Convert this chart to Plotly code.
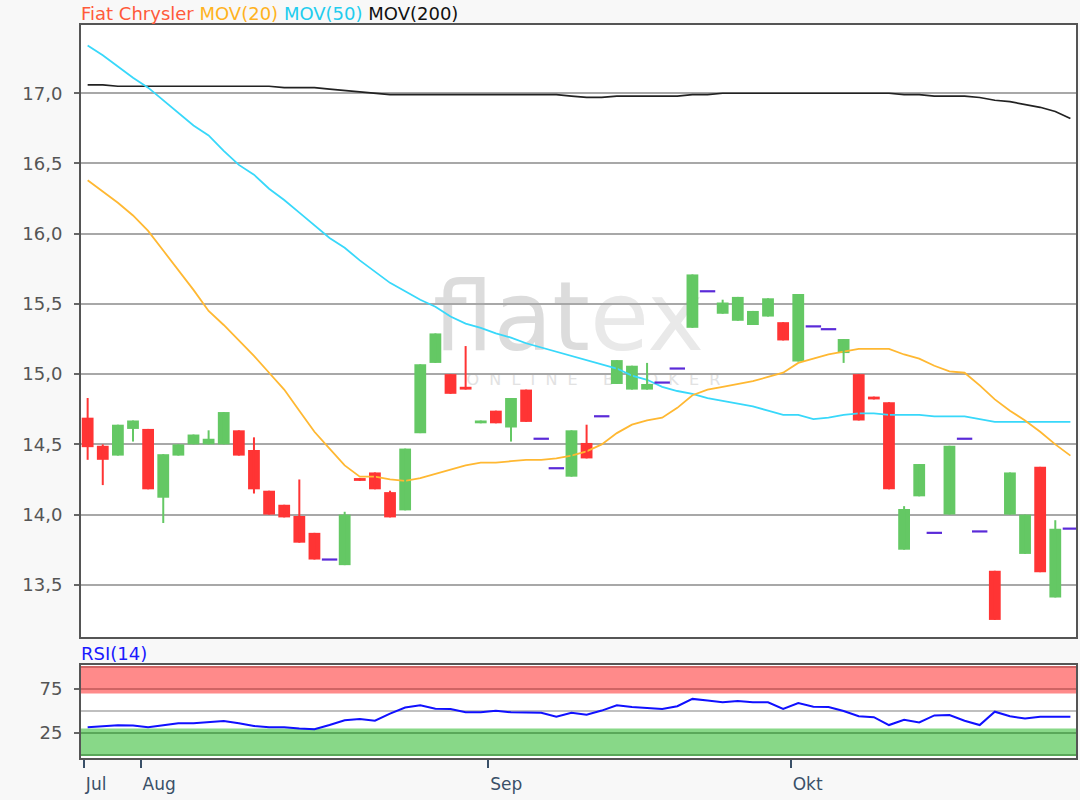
import plotly.graph_objects as go
import pandas as pd

# ---------------- data ----------------
dates = pd.bdate_range("2018-07-26", "2018-10-25")
month_names = {7: "Jul", 8: "Aug", 9: "Sep", 10: "Okt"}

open_ = [14.69, 14.49, 14.42, 14.61, 14.61, 14.12, 14.42, 14.50, 14.50, 14.50,
         14.60, 14.46, 14.17, 14.07, 13.99, 13.87, 13.68, 13.64, 14.26, 14.30,
         14.16, 14.03, 14.58, 15.08, 15.00, 14.91, 14.65, 14.74, 14.62, 14.89,
         14.54, 14.33, 14.27, 14.51, 14.70, 14.93, 14.89, 14.89, 14.94, 15.04,
         15.33, 15.59, 15.43, 15.38, 15.35, 15.41, 15.37, 15.09, 15.34, 15.32,
         15.15, 15.00, 14.84, 14.80, 13.75, 14.13, 13.87, 14.00, 14.54, 13.88,
         13.60, 14.00, 13.72, 14.34, 13.41, 13.90]
high = [14.83, 14.50, 14.64, 14.67, 14.61, 14.43, 14.50, 14.57, 14.60, 14.73,
        14.60, 14.55, 14.17, 14.07, 14.25, 13.87, 13.68, 14.02, 14.26, 14.30,
        14.17, 14.47, 15.07, 15.29, 15.00, 15.20, 14.67, 14.74, 14.83, 14.89,
        14.54, 14.33, 14.60, 14.64, 14.70, 15.10, 15.06, 15.08, 14.94, 15.04,
        15.71, 15.59, 15.53, 15.55, 15.45, 15.54, 15.37, 15.57, 15.34, 15.32,
        15.25, 15.00, 14.84, 14.80, 14.06, 14.36, 13.87, 14.49, 14.54, 13.88,
        13.60, 14.30, 14.00, 14.34, 13.96, 13.90]
low = [14.39, 14.21, 14.42, 14.52, 14.18, 13.94, 14.42, 14.50, 14.50, 14.50,
       14.42, 14.15, 14.00, 13.98, 13.80, 13.68, 13.68, 13.64, 14.24, 14.18,
       13.98, 14.03, 14.58, 15.08, 14.86, 14.89, 14.65, 14.65, 14.52, 14.66,
       14.54, 14.33, 14.27, 14.40, 14.70, 14.93, 14.89, 14.89, 14.94, 15.04,
       15.33, 15.59, 15.43, 15.38, 15.35, 15.41, 15.24, 15.09, 15.34, 15.32,
       15.08, 14.67, 14.82, 14.18, 13.75, 14.13, 13.87, 14.00, 14.54, 13.88,
       13.25, 14.00, 13.72, 13.59, 13.41, 13.90]
close = [14.48, 14.39, 14.64, 14.67, 14.18, 14.43, 14.50, 14.57, 14.54, 14.73,
         14.42, 14.18, 14.00, 13.98, 13.80, 13.68, 13.68, 14.00, 14.24, 14.18,
         13.98, 14.47, 15.07, 15.29, 14.86, 14.89, 14.67, 14.65, 14.83, 14.66,
         14.54, 14.33, 14.60, 14.40, 14.70, 15.10, 15.06, 14.93, 14.94, 15.04,
         15.71, 15.59, 15.51, 15.55, 15.45, 15.54, 15.24, 15.57, 15.34, 15.32,
         15.25, 14.67, 14.82, 14.18, 14.04, 14.36, 13.87, 14.49, 14.54, 13.88,
         13.25, 14.30, 14.00, 13.59, 13.90, 13.90]

mov20 = [16.38, 16.30, 16.22, 16.13, 16.02, 15.88, 15.74, 15.60, 15.45, 15.35,
         15.24, 15.13, 15.01, 14.89, 14.74, 14.59, 14.47, 14.35, 14.27, 14.27,
         14.25, 14.24, 14.26, 14.29, 14.32, 14.35, 14.37, 14.37, 14.38, 14.39,
         14.39, 14.40, 14.42, 14.45, 14.50, 14.58, 14.64, 14.67, 14.69, 14.76,
         14.85, 14.89, 14.91, 14.93, 14.95, 14.98, 15.01, 15.08, 15.11, 15.14,
         15.16, 15.18, 15.18, 15.18, 15.14, 15.11, 15.06, 15.02, 15.01, 14.92,
         14.82, 14.74, 14.67, 14.59, 14.50, 14.42]
mov50 = [17.34, 17.27, 17.19, 17.11, 17.04, 16.95, 16.86, 16.77, 16.70, 16.59,
         16.49, 16.42, 16.32, 16.24, 16.15, 16.06, 15.97, 15.90, 15.81, 15.73,
         15.65, 15.59, 15.53, 15.48, 15.41, 15.36, 15.33, 15.29, 15.26, 15.22,
         15.19, 15.16, 15.13, 15.10, 15.07, 15.04, 14.99, 14.96, 14.91, 14.88,
         14.86, 14.83, 14.81, 14.79, 14.77, 14.74, 14.71, 14.71, 14.68, 14.69,
         14.71, 14.72, 14.72, 14.71, 14.71, 14.71, 14.70, 14.70, 14.70, 14.68,
         14.66, 14.66, 14.66, 14.66, 14.66, 14.66]
mov200 = [17.06, 17.06, 17.05, 17.05, 17.05, 17.05, 17.05, 17.05, 17.05, 17.05,
          17.05, 17.05, 17.05, 17.04, 17.04, 17.04, 17.03, 17.02, 17.01, 17.00,
          16.99, 16.99, 16.99, 16.99, 16.99, 16.99, 16.99, 16.99, 16.99, 16.99,
          16.99, 16.99, 16.98, 16.97, 16.97, 16.98, 16.98, 16.98, 16.98, 16.98,
          16.99, 16.99, 17.00, 17.00, 17.00, 17.00, 17.00, 17.00, 17.00, 17.00,
          17.00, 17.00, 17.00, 17.00, 16.99, 16.99, 16.98, 16.98, 16.98, 16.97,
          16.95, 16.94, 16.92, 16.90, 16.87, 16.82]
rsi14 = [31.5, 32.5, 33.8, 33.5, 31.5, 33.8, 36.2, 36.2, 37.5, 38.5,
         36.0, 33.0, 31.5, 31.5, 30.0, 29.2, 34.0, 39.5, 40.8, 39.0,
         47.0, 54.0, 56.5, 52.5, 52.3, 48.5, 48.5, 50.2, 48.5, 48.1,
         48.0, 43.5, 48.0, 45.8, 50.5, 56.5, 54.5, 53.5, 52.3, 55.5,
         63.8, 62.0, 60.0, 61.5, 60.0, 60.0, 52.3, 59.0, 55.0, 54.6,
         50.0, 44.0, 43.0, 34.0, 40.0, 37.0, 45.0, 45.4, 39.0, 34.0,
         49.2, 44.0, 41.5, 43.5, 43.5, 43.5]

price_ticks = [13.5, 14.0, 14.5, 15.0, 15.5, 16.0, 16.5, 17.0]
rsi_ticks = [25, 75]

# ---------------- styling ----------------
GREEN = "#64c864"
RED = "#ff3434"
DOJI = "#5a2ad8"
FONT = "DejaVu Sans"

idx = list(range(len(dates)))

up_x, up_base, up_h = [], [], []
dn_x, dn_base, dn_h = [], [], []
flat_x, flat_y = [], []
wick_up_x, wick_up_y, wick_dn_x, wick_dn_y = [], [], [], []
for i in idx:
    o, h, l, c = open_[i], high[i], low[i], close[i]
    if o == c and h == l:
        flat_x.append(i)
        flat_y.append(c)
        continue
    if c >= o:
        up_x.append(i); up_base.append(o); up_h.append(c - o)
        wick_up_x += [i, i, None]; wick_up_y += [l, h, None]
    else:
        dn_x.append(i); dn_base.append(c); dn_h.append(o - c)
        wick_dn_x += [i, i, None]; wick_dn_y += [l, h, None]

fig = go.Figure()

# moving averages
fig.add_trace(go.Scatter(x=idx, y=mov200, mode="lines", line=dict(color="#222222", width=1.7),
                         xaxis="x", yaxis="y", hoverinfo="skip", showlegend=False))
fig.add_trace(go.Scatter(x=idx, y=mov50, mode="lines", line=dict(color="#38d8fa", width=1.8),
                         xaxis="x", yaxis="y", hoverinfo="skip", showlegend=False))
fig.add_trace(go.Scatter(x=idx, y=mov20, mode="lines", line=dict(color="#ffb832", width=1.8),
                         xaxis="x", yaxis="y", hoverinfo="skip", showlegend=False))

# wicks
fig.add_trace(go.Scatter(x=wick_up_x, y=wick_up_y, mode="lines", line=dict(color=GREEN, width=2),
                         xaxis="x", yaxis="y", hoverinfo="skip", showlegend=False))
fig.add_trace(go.Scatter(x=wick_dn_x, y=wick_dn_y, mode="lines", line=dict(color=RED, width=2),
                         xaxis="x", yaxis="y", hoverinfo="skip", showlegend=False))
# bodies
fig.add_trace(go.Bar(x=up_x, y=up_h, base=up_base, width=0.78, marker=dict(color=GREEN, line=dict(width=0)),
                     xaxis="x", yaxis="y", hoverinfo="skip", showlegend=False))
fig.add_trace(go.Bar(x=dn_x, y=dn_h, base=dn_base, width=0.78, marker=dict(color=RED, line=dict(width=0)),
                     xaxis="x", yaxis="y", hoverinfo="skip", showlegend=False))
# unchanged days
fig.add_trace(go.Scatter(x=flat_x, y=flat_y, mode="markers",
                         marker=dict(symbol="line-ew", size=11, line=dict(color=DOJI, width=2.2)),
                         xaxis="x", yaxis="y", hoverinfo="skip", showlegend=False))

# RSI
fig.add_trace(go.Scatter(x=idx, y=rsi14, mode="lines", line=dict(color="#1010ff", width=2),
                         xaxis="x2", yaxis="y2", hoverinfo="skip", showlegend=False))

# month ticks (placed just before the first trading day of each month)
tick_vals, tick_text = [], []
for i, d in enumerate(dates):
    if i == 0 or d.month != dates[i - 1].month:
        tick_vals.append(max(i - 0.5, -0.25))
        tick_text.append(month_names[d.month])

x_range = [-0.44, 65.37]
axis_line = dict(showline=True, mirror=True, linecolor="#555555", linewidth=2)


def hline(y, color, width):
    return dict(type="line", xref="x2 domain", yref="y2", x0=0, x1=1, y0=y, y1=y,
                line=dict(color=color, width=width), layer="below")


shapes = [
    # watermark, kept below grid and marks
    dict(type="rect", xref="x domain", yref="y domain", x0=0.33, x1=0.65, y0=0.47, y1=0.60,
         line=dict(width=0), fillcolor="rgba(0,0,0,0)", layer="below",
         label=dict(text='<span style="color:#dcdcdc">flat</span><span style="color:#e9e9e9">ex</span>',
                    textposition="middle center",
                    font=dict(family=FONT, size=96, color="#dcdcdc"))),
    dict(type="rect", xref="x domain", yref="y domain", x0=0.36, x1=0.67, y0=0.40, y1=0.445,
         line=dict(width=0), fillcolor="rgba(0,0,0,0)", layer="below",
         label=dict(text="\u00a0\u00a0".join(list("ONLINE")) + "\u00a0\u00a0\u00a0\u00a0\u00a0"
                         + "\u00a0\u00a0".join(list("BROKER")),
                    textposition="middle center",
                    font=dict(family=FONT, size=16, color="#e2e2e2"))),
    # RSI zones
    dict(type="rect", xref="x2 domain", yref="y2", x0=0, x1=1, y0=70, y1=100,
         fillcolor="#ff8a8a", line=dict(width=0), layer="below"),
    dict(type="rect", xref="x2 domain", yref="y2", x0=0, x1=1, y0=0, y1=30,
         fillcolor="#88d888", line=dict(width=0), layer="below"),
    hline(100, "#d06464", 2),
    hline(75, "#d06464", 2),
    hline(50, "#aaaaaa", 1.5),
    hline(25, "#5aa85a", 2),
    hline(0, "#5aa85a", 2),
]

fig.update_layout(
    width=1080, height=800, autosize=False,
    margin=dict(l=81, r=2, t=25, b=42),
    paper_bgcolor="#f8f8f8", plot_bgcolor="#ffffff",
    separators=",.",
    barmode="overlay",
    showlegend=False,
    font=dict(family=FONT, color="#555555"),
    xaxis=dict(domain=[0, 1], anchor="y", range=x_range, showgrid=False, zeroline=False,
               showticklabels=False, ticks="", **axis_line),
    yaxis=dict(domain=[0.165, 1], anchor="x", range=[13.128, 17.486], tickvals=price_ticks,
               tickformat=".1f", showgrid=True, gridcolor="#a8a8a8", gridwidth=2, zeroline=False,
               ticks="outside", ticklen=5, tickcolor="#666666", tickwidth=1.5,
               ticklabelstandoff=8,
               tickfont=dict(size=18, color="#555555"), **axis_line),
    xaxis2=dict(domain=[0, 1], anchor="y2", range=x_range, matches="x", showgrid=False,
                zeroline=False, tickvals=tick_vals, ticktext=tick_text, ticks="outside",
                ticklen=8, tickwidth=2, tickcolor="#3a5068", ticklabelposition="outside right",
                ticklabelstandoff=10,
                tickfont=dict(size=17, color="#3a5068"), **axis_line),
    yaxis2=dict(domain=[0, 0.127], anchor="x2", range=[-3.5, 102.5], tickvals=rsi_ticks,
                showgrid=False, zeroline=False,
                ticks="outside", ticklen=5, tickcolor="#666666", tickwidth=1.5,
                ticklabelstandoff=8,
                tickfont=dict(size=18, color="#555555"), **axis_line),
    shapes=shapes,
    annotations=[
        dict(xref="x domain", yref="y domain", x=0, y=1, xanchor="left", yanchor="middle",
             showarrow=False, xshift=-2, yshift=12,
             text='<span style="color:#ff5a3a">Fiat Chrysler</span> '
                  '<span style="color:#ffb21e">MOV(20)</span> '
                  '<span style="color:#22ccee">MOV(50)</span> '
                  '<span style="color:#111111">MOV(200)</span>',
             font=dict(family=FONT, size=18)),
        dict(xref="x2 domain", yref="y2 domain", x=0, y=1, xanchor="left", yanchor="middle",
             showarrow=False, xshift=-2, yshift=11, text="RSI(14)",
             font=dict(family=FONT, size=18, color="#1a1aff")),
    ],
)

fig.write_html("out.html",
               config={"displayModeBar": False},
               post_script="document.body.style.margin='0px';"
                           "document.body.style.background='#f8f8f8';")
